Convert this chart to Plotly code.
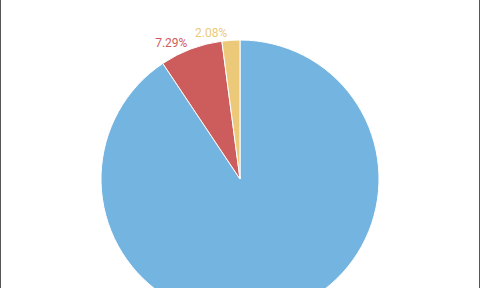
import plotly.graph_objects as go

labels = ["A", "B", "C"]
values = [90.63, 7.29, 2.08]
colors = ["#74b4e1", "#cd5c5c", "#ebc979"]

H = 330


def pie(marker_colors, line_color, positions, text_color):
    return go.Pie(
        labels=labels,
        values=values,
        sort=False,
        direction="clockwise",
        rotation=0,
        marker=dict(colors=marker_colors, line=dict(color=line_color, width=1)),
        texttemplate="%{percent:.2%}",
        textposition=positions,
        outsidetextfont=dict(color=text_color, size=12, family="Roboto"),
        automargin=False,
        showlegend=False,
        hoverinfo="skip",
        domain=dict(x=[0, 1], y=[0, 1]),
    )


fig = go.Figure([
    pie(colors, "white", ["none", "none", "outside"], colors[2]),
    pie(["rgba(0,0,0,0)"] * 3, "rgba(0,0,0,0)", ["none", "outside", "none"], colors[1]),
])
fig.update_layout(
    width=480, height=H,
    margin=dict(l=0, r=0, t=40, b=H - 318),
    paper_bgcolor="white",
    shapes=[
        dict(type="line", xref="paper", yref="paper", x0=0, x1=0, y0=-1, y1=2,
             line=dict(color="#555555", width=2)),
        dict(type="line", xref="paper", yref="paper", x0=1, x1=1, y0=-1, y1=2,
             line=dict(color="#555555", width=2)),
    ],
)
fig.write_html("out.html", post_script="document.body.style.overflow='hidden';document.documentElement.style.overflow='hidden';document.body.style.margin='0';")
